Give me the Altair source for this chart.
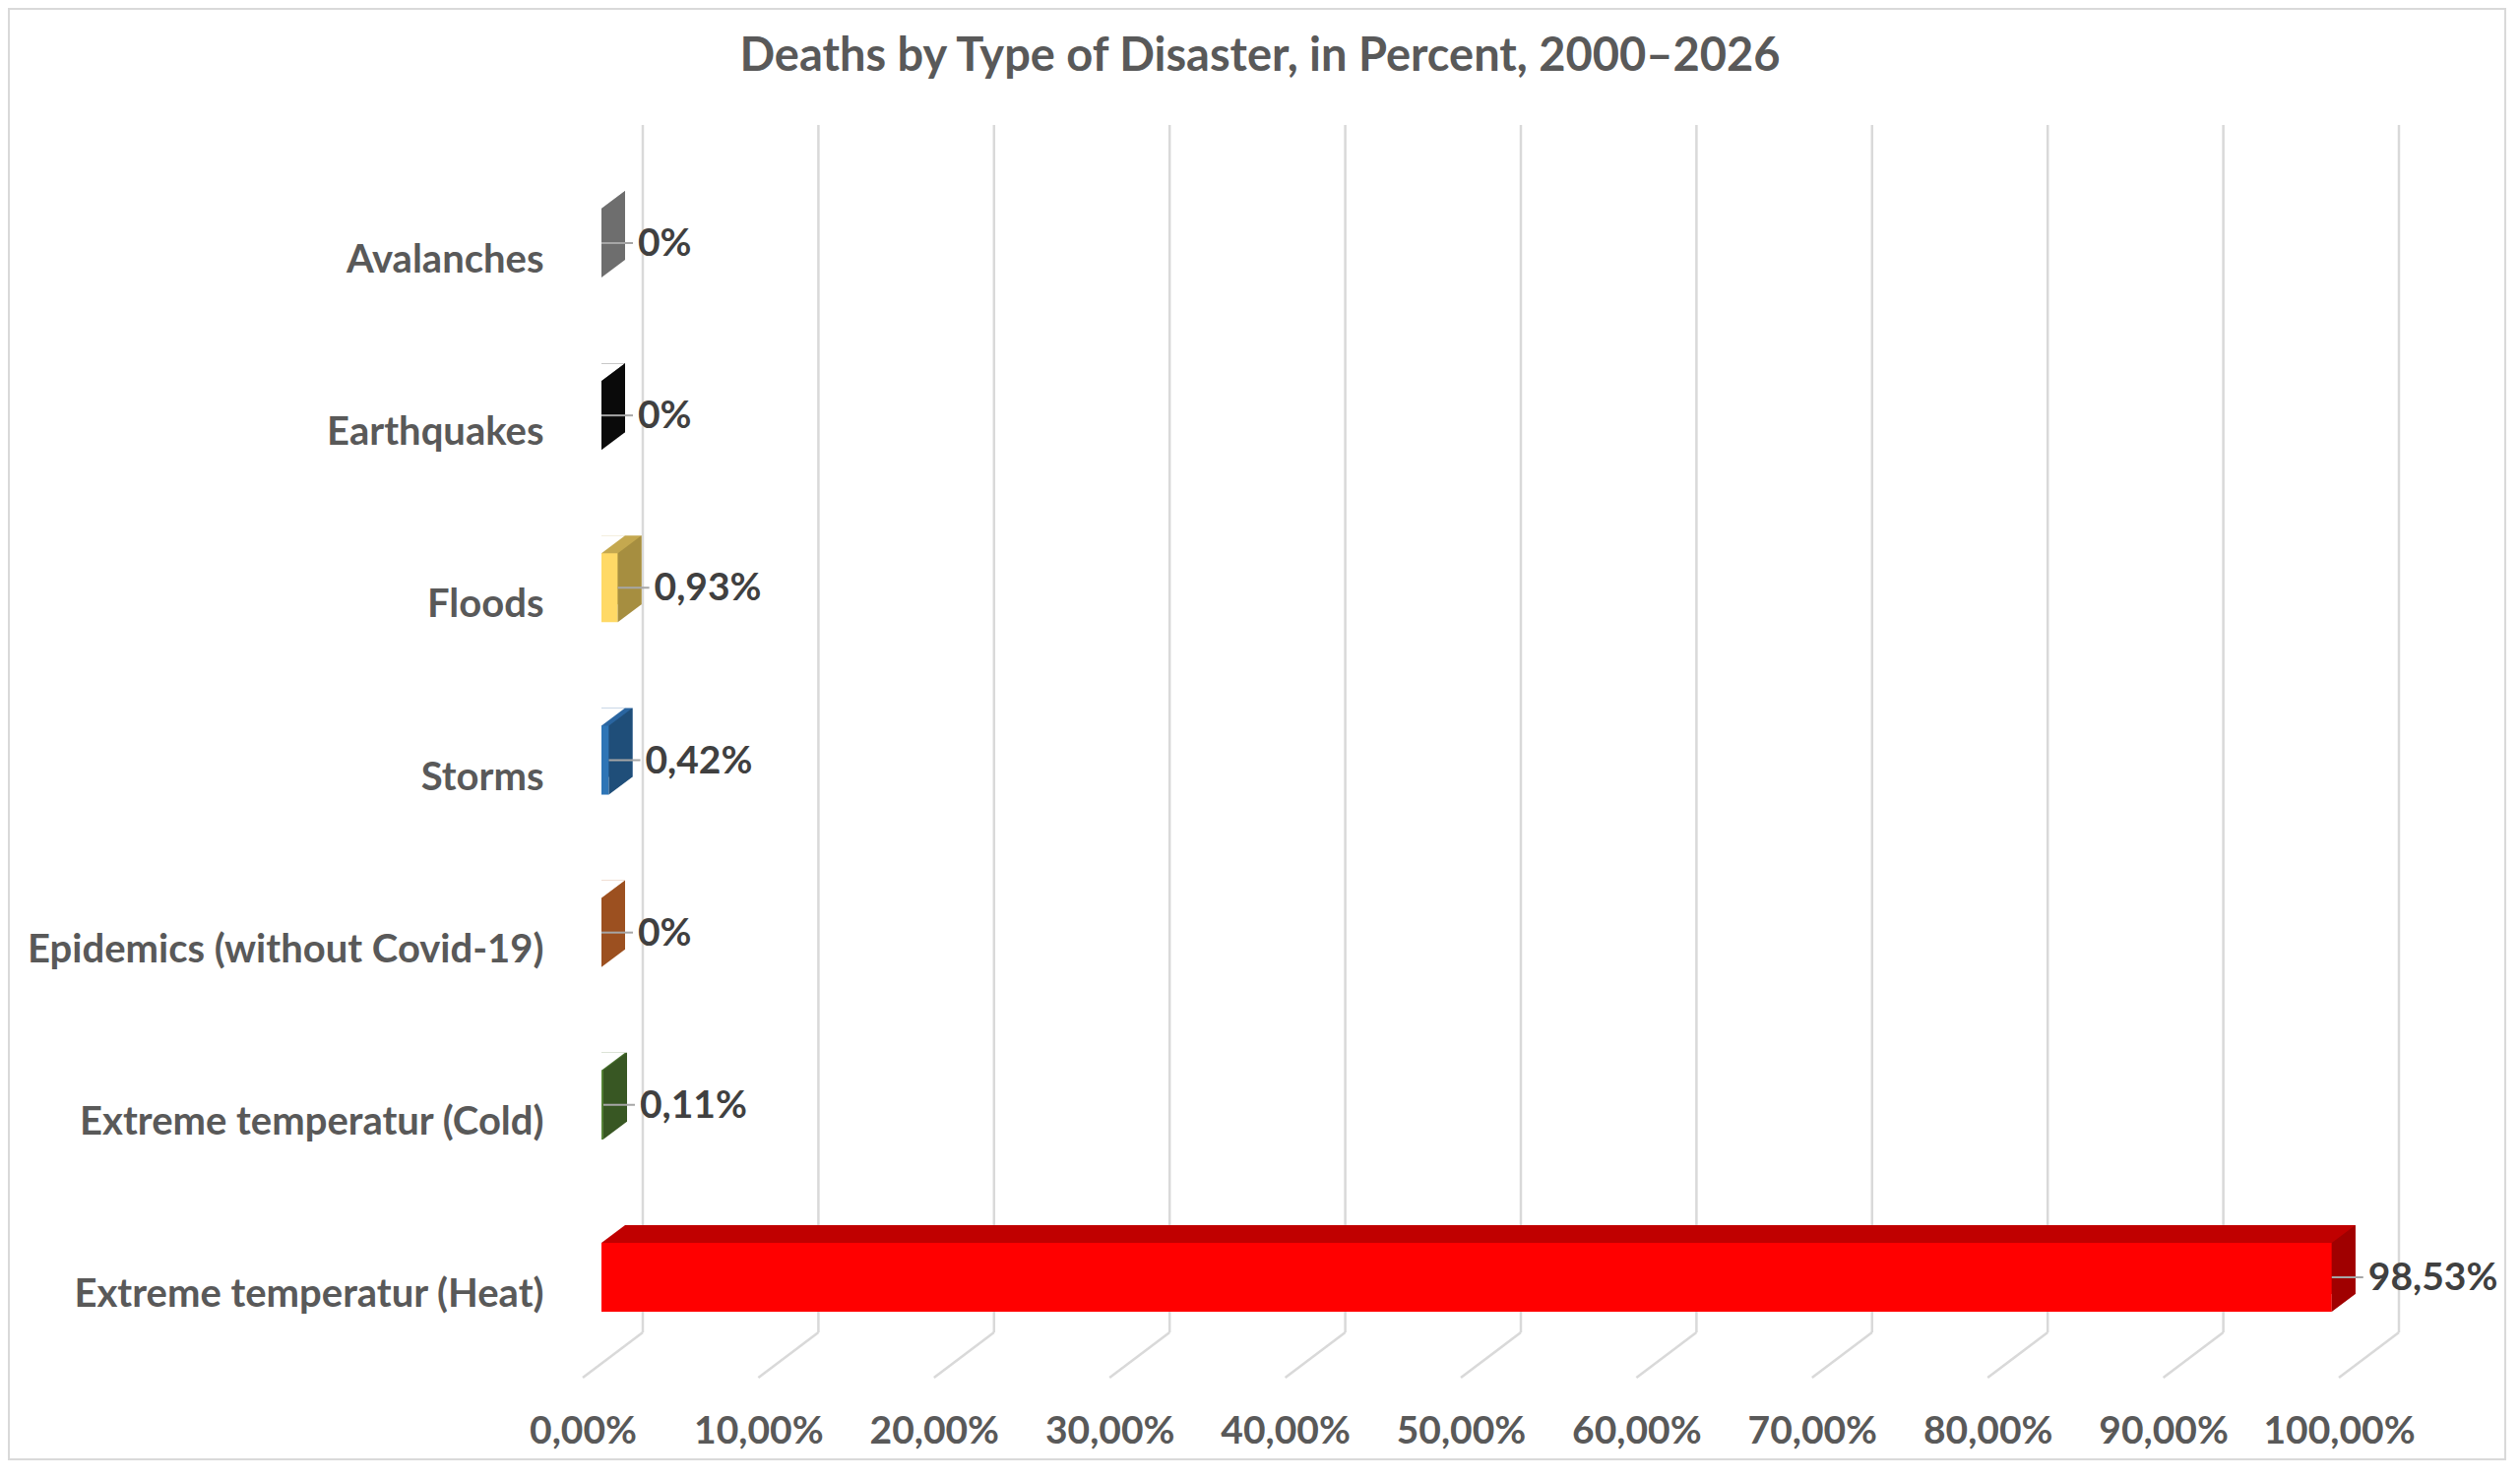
import altair as alt
import pandas as pd

# ---- data ----
categories = [
    "Avalanches",
    "Earthquakes",
    "Floods",
    "Storms",
    "Epidemics (without Covid-19)",
    "Extreme temperatur (Cold)",
    "Extreme temperatur (Heat)",
]
values = [0, 0, 0.93, 0.42, 0, 0.11, 98.53]
front_colors = ["#7F7F7F", "#0D0D0D", "#FFD966", "#2E75B6", "#C55A11", "#548235", "#FF0000"]
side_colors = ["#6E6E6E", "#0A0A0A", "#A68E40", "#1F4E79", "#9C5020", "#385723", "#A00000"]
top_colors = ["#8A8A8A", "#262626", "#C4A84F", "#2A65A0", "#B0591C", "#466E2C", "#C00000"]
tick_values = [0, 10, 20, 30, 40, 50, 60, 70, 80, 90, 100]
title_text = "Deaths by Type of Disaster, in Percent, 2000\u20132026"

df = pd.DataFrame({
    "cat": categories,
    "value": values,
    "front": front_colors,
    "side": side_colors,
    "top": top_colors,
})
ticks_df = pd.DataFrame({"tick": tick_values})

# ---- layout / style constants (pixels) ----
W, H = 1784, 1227
PAD = {"left": 584, "top": 119, "right": 170, "bottom": 130}
FRONT = 19          # front face offset from floor edge
BACK = 61           # back wall offset from floor edge
DX, DY = 24, 18     # bar depth
FLOOR_DY = 46
FONT = "Lato"

# custom symbol paths (unit = 50px since size=10000)
side_path = "M0,-0.7L0.48,-1.06L0.48,0.34L0,0.7Z"
cut_path = "M0,-1.06L0.48,-1.06L0,-0.7Z"

xscale = alt.Scale(domain=[0, 100], nice=False, zero=True)
yscale = alt.Scale(domain=categories, range=[32.4, 1258.6], paddingInner=0.6, paddingOuter=0.3)

xax = alt.Axis(
    values=tick_values, title=None, grid=False, ticks=False, tickSize=0, domain=False,
    labelExpr="replace(format(datum.value, '.2f'), '.', ',') + '%'",
    labelFlush=False, labelOverlap=False, labelPadding=100, labelBaseline="middle",
    labelFontSize=39, labelColor="#595959", labelFont=FONT, labelFontWeight="bold",
)
yax = alt.Axis(
    title=None, grid=False, ticks=False, tickSize=0, domain=False,
    labelPadding=40, labelOffset=18, labelFontSize=40, labelColor="#595959",
    labelFont=FONT, labelFontWeight="bold", labelLimit=1000,
)

def X(f):
    return alt.X(f, scale=xscale, axis=xax)

Y = alt.Y("cat:N", sort=categories, scale=yscale, axis=yax)

base = alt.Chart(df).transform_calculate(zero="0")

border = alt.Chart(ticks_df).transform_filter("datum.tick == 0").mark_rect(
    fill=None, stroke="#D9D9D9", strokeWidth=2
).encode(
    x=alt.value(-PAD["left"] + 1), x2=alt.value(W + PAD["right"] - 1),
    y=alt.value(-PAD["top"] + 1), y2=alt.value(H + PAD["bottom"] - 1),
)
grid_back = alt.Chart(ticks_df).mark_rule(color="#D9D9D9", strokeWidth=2.5, xOffset=BACK).encode(
    x=X("tick:Q")
)
grid_floor = alt.Chart(ticks_df).mark_rule(
    color="#D9D9D9", strokeWidth=2.5, xOffset=BACK, x2Offset=0
).encode(
    x=X("tick:Q"), x2="tick:Q", y=alt.value(H), y2=alt.value(H + FLOOR_DY)
)

top_face = base.mark_rect(xOffset=FRONT, x2Offset=FRONT + DX, yOffset=-DY, y2Offset=-DY).encode(
    x=X("zero:Q"), x2="value:Q", y=Y,
    fill=alt.Fill("top:N", scale=None),
)
cut = base.mark_point(shape=cut_path, size=10000, filled=True, opacity=1, strokeWidth=0,
                      xOffset=FRONT).encode(
    x=X("zero:Q"), y=Y, fill=alt.value("white"),
)
front_face = base.mark_rect(xOffset=FRONT, x2Offset=FRONT).encode(
    x=X("zero:Q"), x2="value:Q", y=Y,
    fill=alt.Fill("front:N", scale=None),
)
side_face = base.mark_point(shape=side_path, size=10000, filled=True, opacity=1, strokeWidth=0,
                            xOffset=FRONT).encode(
    x=X("value:Q"), y=Y, fill=alt.Fill("side:N", scale=None),
)
leader = base.mark_rule(color="#A6A6A6", strokeWidth=2, xOffset=FRONT, x2Offset=FRONT + 32).encode(
    x=X("value:Q"), x2="value:Q", y=Y,
)
labels = base.transform_calculate(
    lab="datum.value == 0 ? '0%' : replace(format(datum.value, '.2f'), '.', ',') + '%'"
).mark_text(
    align="left", baseline="middle", dx=FRONT + 37, dy=1, font=FONT, fontWeight="bold",
    fontSize=39, color="#404040",
).encode(
    x=X("value:Q"), y=Y, text="lab:N",
)

chart = alt.layer(
    border, grid_back, grid_floor, top_face, cut, front_face, side_face, leader, labels
).properties(
    width=W, height=H,
    autosize=alt.AutoSizeParams(type="none"),
    padding=PAD,
    background="white",
    title=alt.Title(
        title_text, font=FONT, fontSize=47, fontWeight="bold", color="#595959",
        anchor="middle", frame="group", dx=-204, offset=-74,
    ),
).configure_view(stroke=None)

chart.save("out.html", embed_options={"renderer": "svg", "actions": False})
